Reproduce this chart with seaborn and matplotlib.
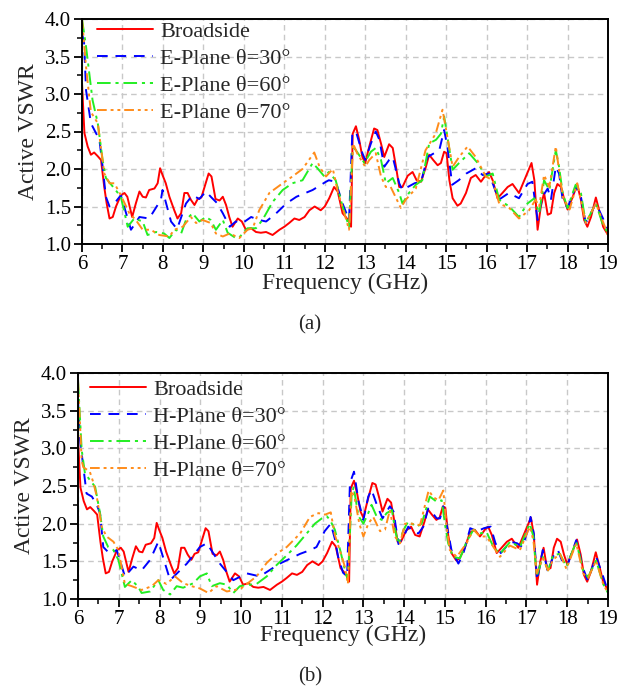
import numpy as np
import pandas as pd
import matplotlib
matplotlib.use("Agg")
import matplotlib.pyplot as plt
from matplotlib.ticker import MultipleLocator, FormatStrFormatter
import seaborn as sns

# ---- measured active VSWR curves (frequency in GHz) ----
broad_f = [6.00, 6.06, 6.14, 6.22, 6.30, 6.39, 6.47, 6.55, 6.61, 6.68, 6.76, 6.84, 6.96, 7.05, 7.12,
           7.24, 7.33, 7.42, 7.50, 7.58, 7.66, 7.79, 7.87, 7.93, 7.99, 8.07, 8.16, 8.28, 8.36, 8.45,
           8.53, 8.61, 8.69, 8.78, 8.86, 8.95, 9.05, 9.13, 9.20, 9.30, 9.40, 9.48, 9.56, 9.64, 9.72,
           9.85, 9.95, 10.05, 10.18, 10.30, 10.42, 10.55, 10.71, 10.88, 11.00, 11.12, 11.25, 11.37,
           11.50, 11.62, 11.75, 11.90, 12.00, 12.11, 12.23, 12.32, 12.44, 12.52, 12.60, 12.65, 12.69,
           12.77, 12.85, 12.93, 13.00, 13.10, 13.22, 13.30, 13.39, 13.47, 13.59, 13.68, 13.76, 13.84,
           13.92, 14.05, 14.17, 14.27, 14.38, 14.50, 14.58, 14.68, 14.79, 14.87, 14.95, 15.01, 15.08,
           15.16, 15.28, 15.36, 15.49, 15.61, 15.73, 15.86, 15.98, 16.06, 16.15, 16.27, 16.39, 16.52,
           16.64, 16.80, 16.97, 17.11, 17.18, 17.26, 17.34, 17.42, 17.51, 17.59, 17.67, 17.75, 17.84,
           17.92, 18.00, 18.10, 18.24, 18.33, 18.41, 18.49, 18.58, 18.70, 18.80, 18.88, 19.00]
broad_v = [3.14, 2.48, 2.30, 2.19, 2.22, 2.17, 2.12, 1.76, 1.54, 1.34, 1.36, 1.50, 1.65, 1.68, 1.63,
           1.36, 1.54, 1.70, 1.63, 1.62, 1.72, 1.74, 1.81, 2.01, 1.92, 1.81, 1.63, 1.45, 1.34, 1.41,
           1.68, 1.68, 1.59, 1.52, 1.60, 1.62, 1.80, 1.94, 1.90, 1.60, 1.58, 1.63, 1.52, 1.36, 1.23,
           1.34, 1.30, 1.19, 1.21, 1.16, 1.15, 1.16, 1.12, 1.19, 1.23, 1.28, 1.34, 1.32,
           1.36, 1.45, 1.50, 1.45, 1.50, 1.61, 1.76, 1.70, 1.41, 1.36, 1.30, 1.23, 2.47,
           2.57, 2.39, 2.16, 2.08, 2.30, 2.54, 2.52, 2.34, 2.16, 2.33, 2.28, 2.03, 1.76,
           1.76, 1.91, 1.96, 1.85, 1.83, 2.03, 2.19, 2.12, 2.05, 2.08, 2.23, 2.21, 1.85,
           1.61, 1.51, 1.54, 1.68, 1.88, 1.92, 1.83, 1.92, 1.96, 1.85, 1.61, 1.68, 1.76,
           1.80, 1.68, 1.90, 2.08, 1.85, 1.19, 1.50, 1.68, 1.39, 1.41, 1.68, 1.80, 1.76,
           1.59, 1.46, 1.59, 1.79, 1.59, 1.32, 1.23, 1.36, 1.62, 1.41, 1.23, 1.12]

e30_f = [6.00, 6.05, 6.10, 6.22, 6.43, 6.51, 6.59, 6.68, 6.80, 6.96, 7.21, 7.42, 7.66, 7.95, 7.99,
         8.20, 8.35, 8.57, 8.73, 8.90, 9.06, 9.20, 9.33, 9.48, 9.65, 9.80, 9.97, 10.18, 10.38, 10.55,
         10.80, 11.05, 11.30, 11.70, 12.03, 12.10, 12.27, 12.44, 12.60, 12.68, 12.77, 12.93, 13.00,
         13.14, 13.26, 13.35, 13.47, 13.59, 13.68, 13.84, 13.92, 14.05, 14.22, 14.38, 14.54, 14.83,
         14.95, 15.03, 15.15, 15.31, 15.50, 15.73, 15.90, 16.06, 16.30, 16.55, 16.80, 17.01, 17.13,
         17.26, 17.38, 17.51, 17.59, 17.71, 17.79, 17.88, 18.00, 18.20, 18.33, 18.45, 18.70, 18.86, 19.00]
e30_v = [3.80, 3.70, 3.05, 2.61, 2.39, 2.03, 1.63, 1.50, 1.54, 1.65, 1.19, 1.36, 1.34, 1.59, 1.72,
         1.30, 1.20, 1.54, 1.65, 1.60, 1.70, 1.62, 1.55, 1.41, 1.23, 1.30, 1.28, 1.36, 1.32, 1.30,
         1.41, 1.54, 1.63, 1.72, 1.83, 1.85, 1.83, 1.54, 1.32, 2.47, 2.50, 2.21, 2.12,
         2.34, 2.50, 2.39, 2.03, 2.12, 2.16, 1.81, 1.72, 1.76, 1.81, 1.83, 2.16, 2.25,
         2.52, 2.30, 1.79, 1.85, 1.94, 2.01, 1.92, 1.94, 1.59, 1.68, 1.61, 1.80, 1.83,
         1.32, 1.63, 1.74, 1.59, 2.03, 1.94, 1.59, 1.48, 1.76, 1.63, 1.28, 1.54, 1.36, 1.19]

e60_f = [6.00, 6.10, 6.26, 6.39, 6.51, 6.59, 6.80, 6.96, 7.13, 7.29, 7.50, 7.62, 7.83, 8.03, 8.16,
         8.32, 8.45, 8.57, 8.73, 8.90, 9.06, 9.18, 9.31, 9.48, 9.60, 9.80, 9.89, 10.09, 10.30, 10.46,
         10.71, 10.96, 11.20, 11.45, 11.70, 11.82, 11.99, 12.10, 12.27, 12.44, 12.60, 12.69, 12.77,
         12.98, 13.14, 13.26, 13.39, 13.51, 13.68, 13.84, 13.92, 14.08, 14.25, 14.41, 14.58, 14.75,
         14.87, 14.95, 15.03, 15.16, 15.32, 15.57, 15.78, 15.98, 16.15, 16.31, 16.56, 16.80, 17.01,
         17.18, 17.30, 17.42, 17.55, 17.71, 17.79, 17.88, 18.00, 18.20, 18.33, 18.45, 18.70, 18.86, 19.00]
e60_v = [4.00, 3.63, 2.92, 2.61, 2.12, 1.88, 1.74, 1.63, 1.23, 1.34, 1.30, 1.12, 1.16, 1.14, 1.08,
         1.19, 1.14, 1.32, 1.41, 1.30, 1.36, 1.32, 1.19, 1.32, 1.15, 1.08, 1.09, 1.21, 1.21, 1.32,
         1.56, 1.72, 1.81, 1.85, 2.08, 2.01, 1.90, 1.96, 1.85, 1.50, 1.23, 2.30, 2.25,
         2.08, 2.23, 2.28, 2.12, 1.81, 1.88, 1.68, 1.54, 1.68, 1.79, 1.85, 2.34, 2.39,
         2.47, 2.70, 2.43, 1.99, 2.08, 2.21, 2.08, 1.90, 1.94, 1.59, 1.50, 1.36, 1.54,
         1.61, 1.41, 1.85, 1.72, 2.25, 2.03, 1.68, 1.48, 1.79, 1.68, 1.28, 1.54, 1.28, 1.14]

e70_f = [6.00, 6.10, 6.22, 6.39, 6.55, 6.68, 6.80, 6.96, 7.17, 7.33, 7.50, 7.70, 7.91, 8.16, 8.28,
         8.49, 8.69, 8.82, 8.98, 9.18, 9.31, 9.48, 9.65, 9.89, 10.09, 10.22, 10.38, 10.63, 10.96,
         11.20, 11.45, 11.74, 11.87, 12.03, 12.20, 12.33, 12.50, 12.60, 12.70, 12.80, 13.00, 13.10,
         13.26, 13.39, 13.51, 13.63, 13.88, 14.00, 14.25, 14.49, 14.74, 14.91, 14.99, 15.16, 15.32,
         15.53, 15.73, 15.98, 16.15, 16.31, 16.56, 16.80, 17.05, 17.21, 17.30, 17.42, 17.55, 17.71,
         17.88, 18.05, 18.24, 18.45, 18.70, 18.86, 19.00]
e70_v = [4.00, 3.36, 2.76, 2.61, 1.94, 1.81, 1.81, 1.65, 1.41, 1.32, 1.19, 1.19, 1.12, 1.10, 1.19,
         1.23, 1.36, 1.28, 1.32, 1.28, 1.14, 1.10, 1.14, 1.08, 1.19, 1.21, 1.45, 1.68, 1.81,
         1.90, 2.00, 2.22, 2.03, 1.90, 2.00, 1.68, 1.38, 1.19, 2.34, 2.21, 2.03, 2.12,
         2.21, 1.90, 1.76, 1.76, 1.48, 1.59, 1.74, 2.25, 2.47, 2.79, 2.55, 2.03, 2.16,
         2.30, 2.16, 1.90, 1.85, 1.54, 1.48, 1.34, 1.45, 1.59, 1.50, 1.92, 1.76, 2.30,
         1.63, 1.46, 1.81, 1.28, 1.54, 1.32, 1.12]

h30_f = [6.00, 6.05, 6.21, 6.34, 6.46, 6.54, 6.62, 6.78, 6.95, 7.15, 7.36, 7.56, 7.77, 7.97, 8.26,
         8.67, 8.99, 9.16, 9.48, 9.81, 10.14, 10.46, 10.95, 11.45, 11.70, 11.85, 12.05, 12.20, 12.30,
         12.38, 12.50, 12.60, 12.67, 12.77, 12.88, 13.00, 13.12, 13.20, 13.33, 13.47, 13.65, 13.74,
         13.86, 13.98, 14.10, 14.23, 14.35, 14.47, 14.59, 14.67, 14.80, 14.88, 14.96, 15.04, 15.16,
         15.33, 15.45, 15.62, 15.79, 15.96, 16.12, 16.24, 16.37, 16.61, 16.77, 16.90, 17.02, 17.10,
         17.18, 17.26, 17.40, 17.53, 17.65, 17.77, 17.90, 18.02, 18.22, 18.38, 18.50, 18.71, 18.88, 19.00]
h30_v = [3.64, 3.11, 2.40, 2.36, 2.25, 2.14, 1.69, 1.60, 1.65, 1.30, 1.43, 1.38, 1.52, 1.76, 1.25,
         1.47, 1.69, 1.74, 1.47, 1.25, 1.34, 1.30, 1.47, 1.60, 1.65, 1.69, 1.90, 2.00, 1.80,
         1.56, 1.35, 1.30, 2.54, 2.69, 2.30, 2.05, 2.36, 2.45, 2.25, 2.07, 2.23, 2.16,
         1.73, 1.82, 1.96, 1.89, 1.87, 1.96, 2.20, 2.16, 2.07, 2.07, 2.23, 2.00, 1.65,
         1.47, 1.60, 1.94, 1.90, 1.94, 1.96, 1.74, 1.61, 1.76, 1.74, 1.69, 1.89, 2.09,
         1.87, 1.25, 1.65, 1.36, 1.56, 1.65, 1.47, 1.47, 1.78, 1.42, 1.25, 1.56, 1.30, 1.10]

h60_f = [6.00, 6.09, 6.17, 6.29, 6.42, 6.54, 6.62, 6.74, 6.87, 6.99, 7.15, 7.32, 7.48, 7.56, 7.77,
         7.97, 8.09, 8.26, 8.42, 8.58, 8.83, 8.99, 9.16, 9.28, 9.48, 9.65, 9.81, 9.97, 10.22, 10.38,
         10.63, 10.87, 11.12, 11.36, 11.61, 11.81, 11.98, 12.10, 12.18, 12.30, 12.43, 12.55, 12.62,
         12.71, 12.76, 12.88, 13.00, 13.12, 13.20, 13.33, 13.45, 13.57, 13.70, 13.78, 13.86, 13.98,
         14.10, 14.31, 14.43, 14.63, 14.80, 14.92, 15.00, 15.08, 15.20, 15.37, 15.53, 15.70, 15.86,
         16.02, 16.19, 16.35, 16.60, 16.84, 17.08, 17.17, 17.25, 17.40, 17.53, 17.65, 17.82, 17.98,
         18.22, 18.39, 18.51, 18.71, 18.88, 19.00]
h60_v = [3.90, 2.98, 2.67, 2.58, 2.49, 2.14, 1.83, 1.69, 1.65, 1.52, 1.16, 1.25, 1.16, 1.08, 1.10,
         1.25, 1.12, 1.06, 1.17, 1.15, 1.21, 1.30, 1.34, 1.17, 1.21, 1.19, 1.08, 1.17, 1.19, 1.20,
         1.30, 1.45, 1.58, 1.71, 1.87, 2.00, 2.07, 2.10, 2.05, 1.92, 1.65, 1.38, 1.25,
         2.36, 2.49, 2.10, 2.00, 2.14, 2.25, 2.09, 2.05, 2.14, 2.18, 1.91, 1.73, 1.91,
         2.03, 1.96, 2.00, 2.36, 2.29, 2.31, 2.00, 1.74, 1.56, 1.54, 1.76, 1.92, 1.87,
         1.89, 1.69, 1.60, 1.76, 1.69, 2.00, 1.83, 1.30, 1.56, 1.38, 1.58, 1.60, 1.43,
         1.76, 1.38, 1.29, 1.51, 1.20, 1.08]

h70_f = [6.00, 6.09, 6.13, 6.29, 6.38, 6.46, 6.58, 6.70, 6.87, 6.99, 7.15, 7.32, 7.56, 7.81, 7.97,
         8.17, 8.38, 8.58, 8.79, 8.99, 9.20, 9.40, 9.65, 9.85, 10.00, 10.38, 10.63, 10.87, 11.12,
         11.45, 11.69, 11.90, 12.06, 12.20, 12.30, 12.42, 12.55, 12.62, 12.70, 12.78, 12.90, 13.00,
         13.12, 13.24, 13.41, 13.53, 13.65, 13.77, 13.90, 14.02, 14.18, 14.39, 14.60, 14.72, 14.84,
         14.96, 15.04, 15.12, 15.29, 15.53, 15.70, 15.86, 16.02, 16.19, 16.35, 16.59, 16.84, 17.08,
         17.17, 17.25, 17.40, 17.53, 17.65, 17.82, 17.98, 18.22, 18.39, 18.51, 18.71, 18.88, 19.00]
h70_v = [3.90, 2.84, 2.75, 2.69, 2.54, 2.36, 1.96, 1.83, 1.76, 1.65, 1.20, 1.17, 1.12, 1.17, 1.25,
         1.20, 1.30, 1.21, 1.17, 1.14, 1.08, 1.17, 1.10, 1.12, 1.14, 1.30, 1.48, 1.60, 1.69,
         1.87, 2.09, 2.14, 2.12, 2.15, 1.85, 1.65, 1.42, 1.20, 2.44, 2.36, 2.00, 1.83,
         2.00, 2.09, 1.90, 1.92, 2.18, 1.83, 1.74, 2.00, 2.00, 1.98, 2.44, 2.35, 2.31,
         2.44, 1.96, 1.65, 1.56, 1.74, 1.92, 1.83, 1.83, 1.69, 1.56, 1.71, 1.65, 1.96,
         1.78, 1.34, 1.54, 1.38, 1.52, 1.60, 1.40, 1.74, 1.34, 1.28, 1.51, 1.20, 1.08]

e_labels = ["Broadside", "E-Plane θ=30°", "E-Plane θ=60°", "E-Plane θ=70°"]
h_labels = ["Broadside", "H-Plane θ=30°", "H-Plane θ=60°", "H-Plane θ=70°"]
x_ticks = list(range(6, 20))
y_ticks = [1.0, 1.5, 2.0, 2.5, 3.0, 3.5, 4.0]

colors = ["#FF0000", "#0000FF", "#22EE22", "#FF8C1A"]
styles = ["-", (0, (5.5, 4)), (0, (7, 2.5, 1.6, 2.5)), (0, (5, 2, 1.5, 2, 1.5, 2))]

sns.set_theme(style="ticks")
plt.rcParams["font.family"] = ["Liberation Serif", "DejaVu Serif"]
plt.rcParams["mathtext.fontset"] = "stix"

W, H = 621, 687
fig = plt.figure(figsize=(W / 100, H / 100), dpi=100)


def frame(f, v, label):
    return pd.DataFrame({"Frequency": f, "VSWR": v, "series": label})


def panel(rect, series, labels, leg_xy, labelpad):
    ax = fig.add_axes([rect[0] / W, 1 - rect[3] / H, (rect[2] - rect[0]) / W, (rect[3] - rect[1]) / H])
    for (f, v), lab, c, ls in zip(series, labels, colors, styles):
        sns.lineplot(data=frame(f, v, lab), x="Frequency", y="VSWR", ax=ax, color=c,
                     linestyle=ls, linewidth=1.4, sort=False, estimator=None, label=lab)
    ax.set_xlim(6, 19)
    ax.set_ylim(1.0, 4.0)
    ax.set_xticks(x_ticks)
    ax.set_yticks(y_ticks)
    ax.yaxis.set_major_formatter(FormatStrFormatter("%.1f"))
    ax.xaxis.set_minor_locator(MultipleLocator(0.5))
    ax.yaxis.set_minor_locator(MultipleLocator(0.25))
    ax.tick_params(which="major", direction="out", length=6, width=1.3, labelsize=15,
                   colors="black", pad=2)
    ax.tick_params(which="minor", direction="out", length=3.5, width=1.1, colors="black")
    ax.grid(True, which="major", color="#C8C8C8", linestyle=(0, (4, 3)), linewidth=1.0)
    for s in ax.spines.values():
        s.set_visible(True)
        s.set_linewidth(1.4)
        s.set_color("black")
    ax.set_xlabel("Frequency (GHz)", fontsize=17, labelpad=labelpad)
    ax.set_ylabel("Active VSWR", fontsize=17, labelpad=4)
    ax.set_facecolor("white")
    ax.legend(loc="upper left", bbox_to_anchor=(leg_xy[0] / W, 1 - leg_xy[1] / H),
              bbox_transform=fig.transFigure, frameon=False, fontsize=16,
              handlelength=2.5, handletextpad=0.35, labelspacing=0.3,
              borderpad=0, borderaxespad=0)
    return ax


panel((82, 19, 608, 244),
      [(broad_f, broad_v), (e30_f, e30_v), (e60_f, e60_v), (e70_f, e70_v)],
      e_labels, (97, 21), -1)
panel((78, 373, 608, 599),
      [(broad_f, broad_v), (h30_f, h30_v), (h60_f, h60_v), (h70_f, h70_v)],
      h_labels, (90, 379), -3)

fig.text(310 / W, 1 - 325 / H, "(a)", ha="center", va="center", fontsize=15)
fig.text(310 / W, 1 - 677 / H, "(b)", ha="center", va="center", fontsize=15)

fig.savefig("out.png", dpi=100, facecolor="white")
